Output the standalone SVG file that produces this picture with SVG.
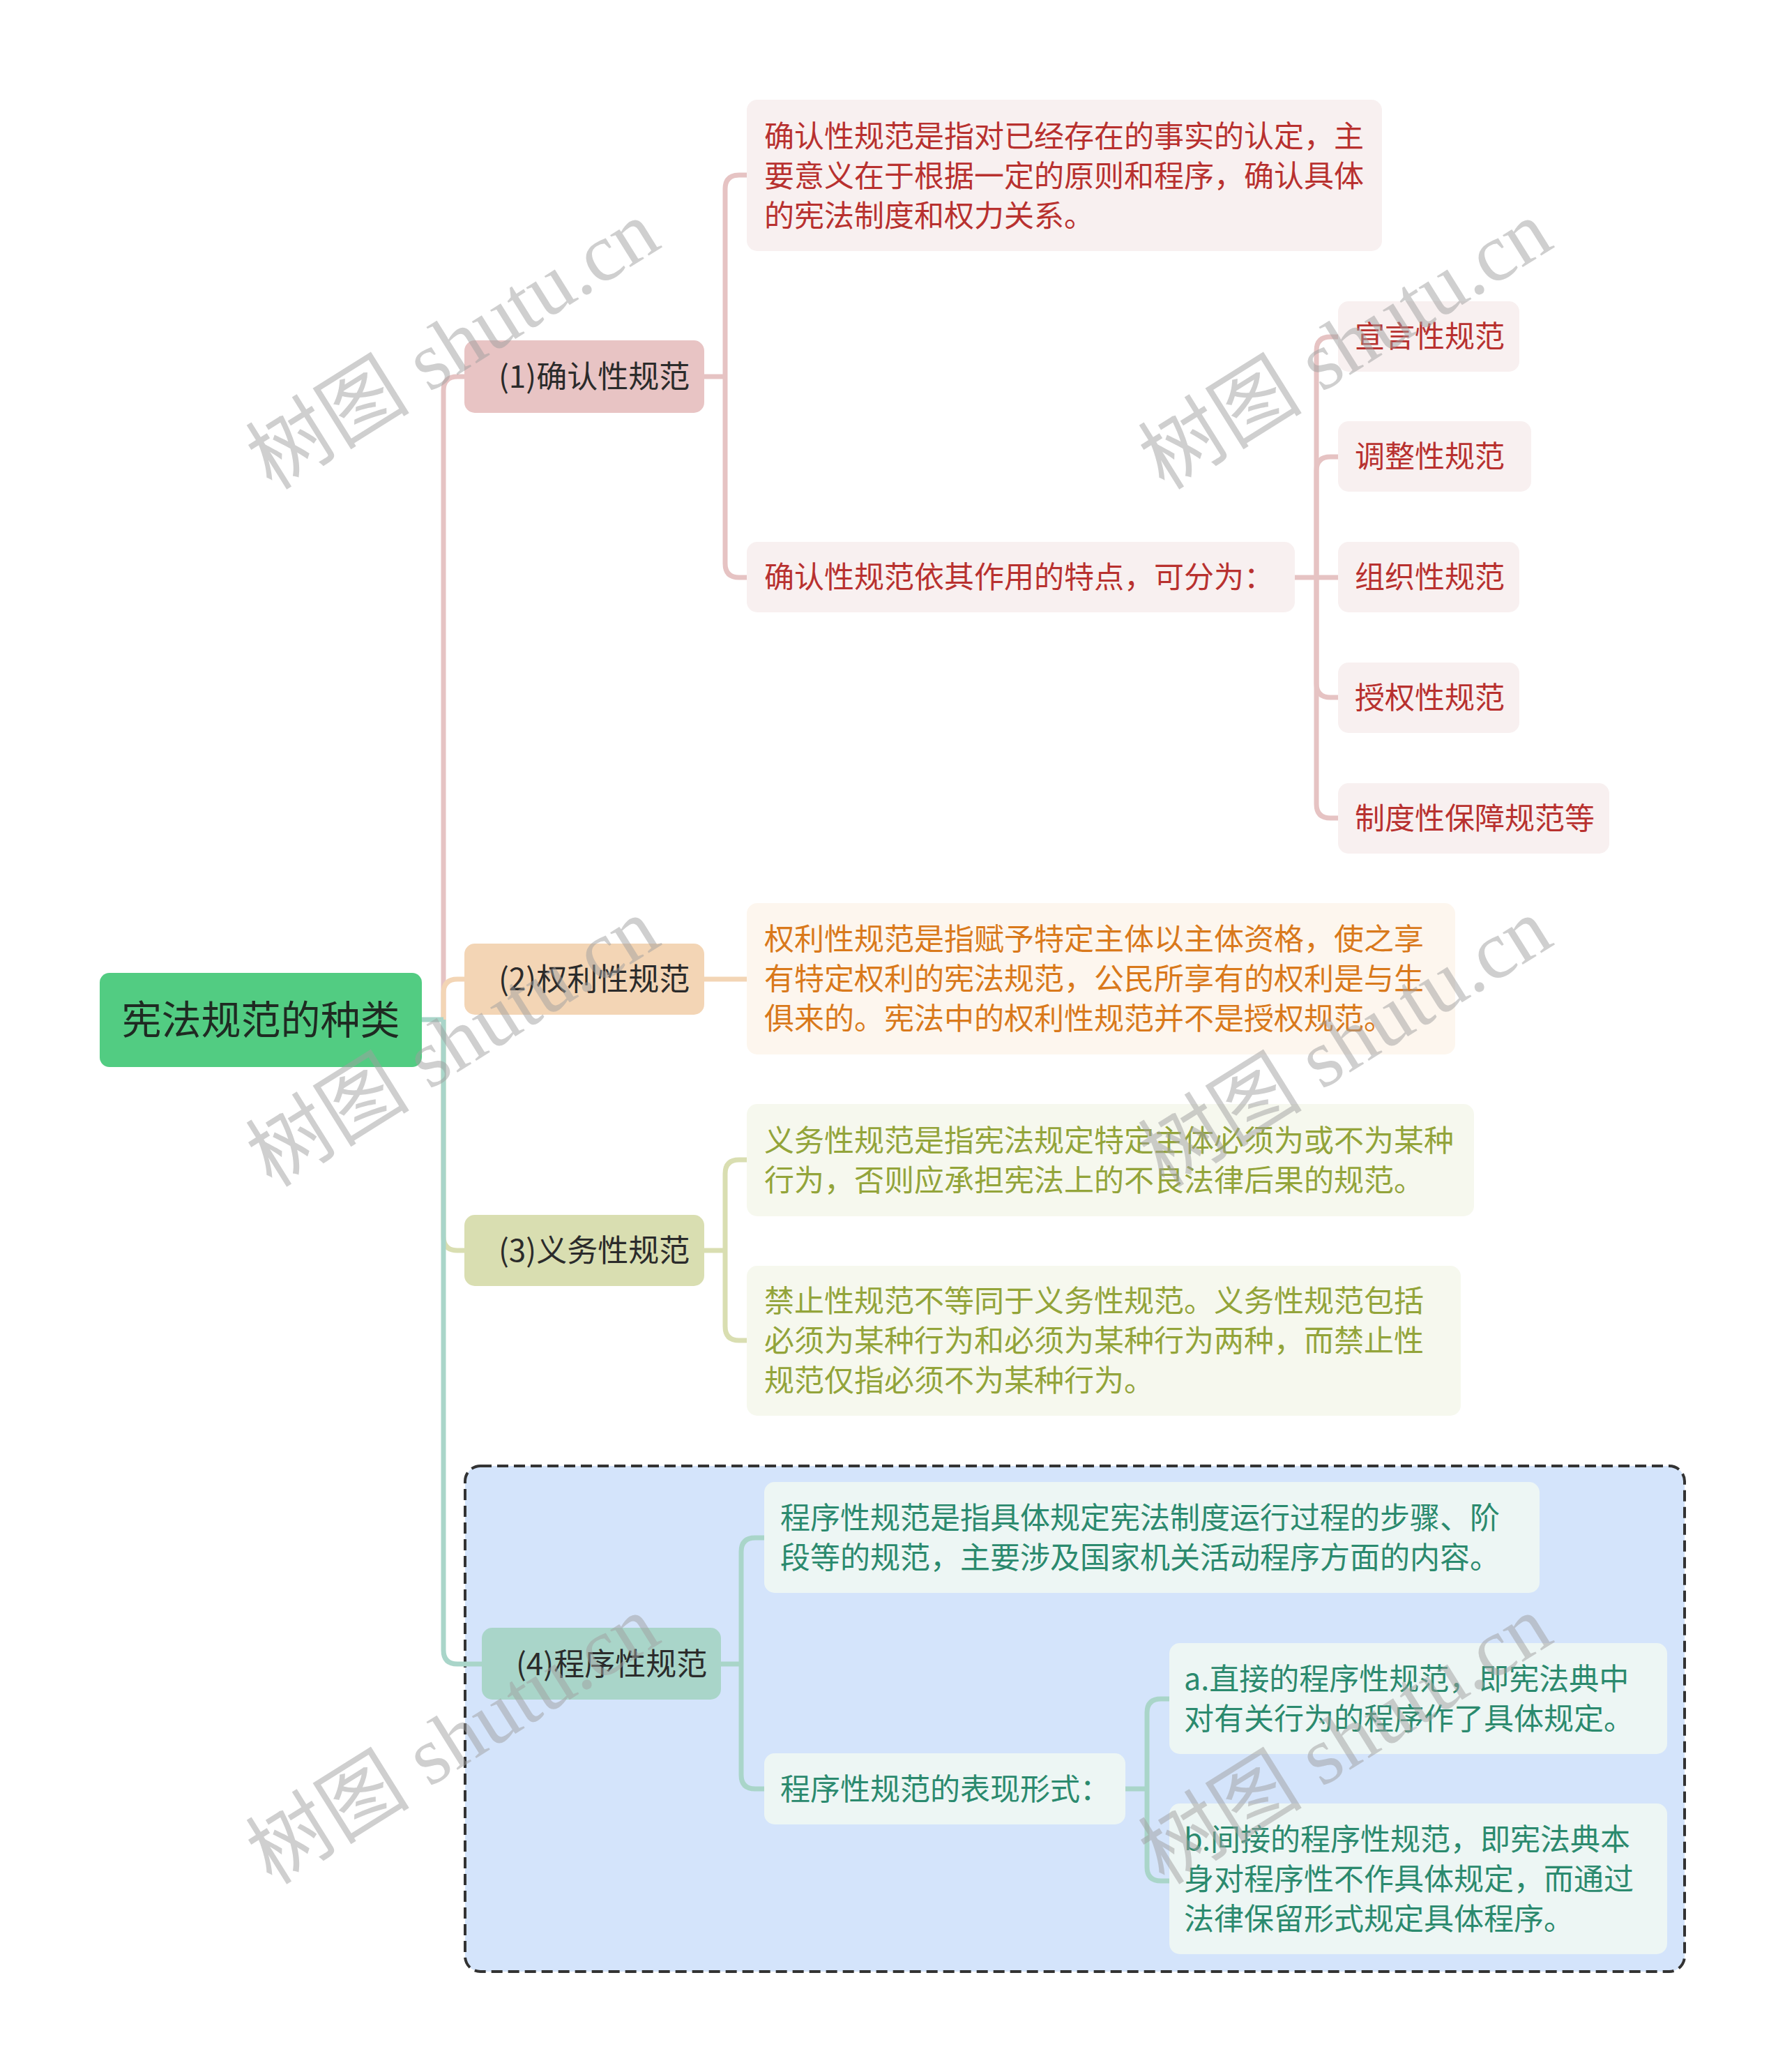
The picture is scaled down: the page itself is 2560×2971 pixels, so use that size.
<svg xmlns="http://www.w3.org/2000/svg" width="2560" height="2971" viewBox="0 0 2560 2971">
<style>
text{font-family:"Noto Sans CJK SC","Liberation Sans",sans-serif;}
.l1{font-size:44px;fill:#2b2b2b;}
.b{font-size:43px;}
.red{fill:#b8312f;}
.org{fill:#d9791b;}
.olv{fill:#93a43a;}
.tl{fill:#2b8a6e;}
.c{fill:none;stroke-width:7;stroke-linecap:butt;stroke-linejoin:round;}
.cp{stroke:#e6c3c3;}
.co{stroke:#f3d5b5;}
.cv{stroke:#d9deb1;}
.ct{stroke:#a9d5c9;}
.wm{font-family:"Liberation Serif","Noto Sans CJK SC",serif;font-size:118px;fill:#a0a0a0;opacity:0.5;}
</style>
<rect width="2560" height="2971" fill="#ffffff"/>

<g id="boundary">
<rect x="667" y="2102" width="1749" height="725" rx="22" fill="#d4e4fb" stroke="#333333" stroke-width="4" stroke-dasharray="16 8"/>
</g>

<g id="connectors">
<path class="c cp" d="M636,1462 V560 Q636,540 656,540 H666"/>
<path class="c co" d="M636,1462 V1424 Q636,1404 656,1404 H666"/>
<path class="c cv" d="M636,1462 V1773 Q636,1793 656,1793 H666"/>
<path class="c ct" d="M636,1462 V2366 Q636,2386 656,2386 H691"/>
<path class="c ct" d="M605,1462 H636"/>

<path class="c cp" d="M1010,540 H1040"/>
<path class="c cp" d="M1040,540 V271 Q1040,251 1060,251 H1071"/>
<path class="c cp" d="M1040,540 V808 Q1040,828 1060,828 H1071"/>
<path class="c cp" d="M1857,828 H1919"/>
<path class="c cp" d="M1888,828 V503 Q1888,483 1908,483 H1919"/>
<path class="c cp" d="M1888,828 V675 Q1888,655 1908,655 H1919"/>
<path class="c cp" d="M1888,828 V980 Q1888,1000 1908,1000 H1919"/>
<path class="c cp" d="M1888,828 V1153 Q1888,1173 1908,1173 H1919"/>

<path class="c co" d="M1010,1404 H1071"/>

<path class="c cv" d="M1010,1793 H1040"/>
<path class="c cv" d="M1040,1793 V1683 Q1040,1663 1060,1663 H1071"/>
<path class="c cv" d="M1040,1793 V1902 Q1040,1922 1060,1922 H1071"/>

<path class="c ct" d="M1034,2386 H1063"/>
<path class="c ct" d="M1063,2386 V2225 Q1063,2205 1083,2205 H1096"/>
<path class="c ct" d="M1063,2386 V2545 Q1063,2565 1083,2565 H1096"/>
<path class="c ct" d="M1614,2565 H1645"/>
<path class="c ct" d="M1645,2565 V2456 Q1645,2436 1665,2436 H1677"/>
<path class="c ct" d="M1645,2565 V2677 Q1645,2697 1665,2697 H1677"/>
</g>

<g id="root">
<rect x="143" y="1395" width="462" height="135" rx="14" fill="#52cc82"/>
<text x="374" y="1483" text-anchor="middle" style="font-size:57px;fill:#1f2a22;">宪法规范的种类</text>
</g>

<g id="n1">
<rect x="666" y="488" width="344" height="104" rx="15" fill="#e8c4c4"/>
<text class="l1" x="715" y="556">(1)确认性规范</text>
</g>
<g id="n1a">
<rect x="1071" y="143" width="911" height="217" rx="15" fill="#f8f0f0"/>
<text class="b red"><tspan x="1096" y="211">确认性规范是指对已经存在的事实的认定，主</tspan><tspan x="1096" y="268">要意义在于根据一定的原则和程序，确认具体</tspan><tspan x="1096" y="325">的宪法制度和权力关系。</tspan></text>
</g>
<g id="n1b">
<rect x="1071" y="777" width="786" height="101" rx="15" fill="#f8f0f0"/>
<text class="b red" x="1096" y="843">确认性规范依其作用的特点，可分为：</text>
</g>
<g id="n1b1">
<rect x="1919" y="432" width="260" height="101" rx="15" fill="#f8f0f0"/>
<text class="b red" x="1943" y="498">宣言性规范</text>
</g>
<g id="n1b2">
<rect x="1919" y="604" width="277" height="101" rx="15" fill="#f8f0f0"/>
<text class="b red" x="1943" y="670">调整性规范</text>
</g>
<g id="n1b3">
<rect x="1919" y="777" width="260" height="101" rx="15" fill="#f8f0f0"/>
<text class="b red" x="1943" y="843">组织性规范</text>
</g>
<g id="n1b4">
<rect x="1919" y="950" width="260" height="101" rx="15" fill="#f8f0f0"/>
<text class="b red" x="1943" y="1016">授权性规范</text>
</g>
<g id="n1b5">
<rect x="1919" y="1123" width="389" height="101" rx="15" fill="#f8f0f0"/>
<text class="b red" x="1943" y="1189">制度性保障规范等</text>
</g>

<g id="n2">
<rect x="666" y="1353" width="344" height="102" rx="15" fill="#f3d5b5"/>
<text class="l1" x="715" y="1420">(2)权利性规范</text>
</g>
<g id="n2a">
<rect x="1071" y="1295" width="1016" height="217" rx="15" fill="#fdf6ee"/>
<text class="b org"><tspan x="1096" y="1362">权利性规范是指赋予特定主体以主体资格，使之享</tspan><tspan x="1096" y="1419">有特定权利的宪法规范，公民所享有的权利是与生</tspan><tspan x="1096" y="1476">俱来的。宪法中的权利性规范并不是授权规范。</tspan></text>
</g>

<g id="n3">
<rect x="666" y="1742" width="344" height="102" rx="15" fill="#d9deb1"/>
<text class="l1" x="715" y="1809">(3)义务性规范</text>
</g>
<g id="n3a">
<rect x="1071" y="1583" width="1043" height="161" rx="15" fill="#f6f8ee"/>
<text class="b olv"><tspan x="1096" y="1651">义务性规范是指宪法规定特定主体必须为或不为某种</tspan><tspan x="1096" y="1708">行为，否则应承担宪法上的不良法律后果的规范。</tspan></text>
</g>
<g id="n3b">
<rect x="1071" y="1815" width="1024" height="215" rx="15" fill="#f6f8ee"/>
<text class="b olv"><tspan x="1096" y="1881">禁止性规范不等同于义务性规范。义务性规范包括</tspan><tspan x="1096" y="1938">必须为某种行为和必须为某种行为两种，而禁止性</tspan><tspan x="1096" y="1995">规范仅指必须不为某种行为。</tspan></text>
</g>

<g id="n4">
<rect x="691" y="2334" width="343" height="103" rx="15" fill="#a9d5c9"/>
<text class="l1" x="740" y="2402">(4)程序性规范</text>
</g>
<g id="n4a">
<rect x="1096" y="2125" width="1112" height="159" rx="15" fill="#edf6f4"/>
<text class="b tl"><tspan x="1119" y="2192">程序性规范是指具体规定宪法制度运行过程的步骤、阶</tspan><tspan x="1119" y="2249">段等的规范，主要涉及国家机关活动程序方面的内容。</tspan></text>
</g>
<g id="n4b">
<rect x="1096" y="2514" width="518" height="102" rx="15" fill="#edf6f4"/>
<text class="b tl" x="1119" y="2581">程序性规范的表现形式：</text>
</g>
<g id="n4b1">
<rect x="1677" y="2356" width="714" height="159" rx="15" fill="#edf6f4"/>
<text class="b tl"><tspan x="1698" y="2423">a.直接的程序性规范，即宪法典中</tspan><tspan x="1698" y="2480">对有关行为的程序作了具体规定。</tspan></text>
</g>
<g id="n4b2">
<rect x="1677" y="2586" width="714" height="216" rx="15" fill="#edf6f4"/>
<text class="b tl"><tspan x="1698" y="2653">b.间接的程序性规范，即宪法典本</tspan><tspan x="1698" y="2710">身对程序性不作具体规定，而通过</tspan><tspan x="1698" y="2767">法律保留形式规定具体程序。</tspan></text>
</g>

<g id="watermarks">
<text class="wm" transform="translate(390,704) rotate(-32)">树图 shutu.cn</text>
<text class="wm" transform="translate(1670,704) rotate(-32)">树图 shutu.cn</text>
<text class="wm" transform="translate(390,1704) rotate(-32)">树图 shutu.cn</text>
<text class="wm" transform="translate(1670,1704) rotate(-32)">树图 shutu.cn</text>
<text class="wm" transform="translate(390,2704) rotate(-32)">树图 shutu.cn</text>
<text class="wm" transform="translate(1670,2704) rotate(-32)">树图 shutu.cn</text>
</g>
</svg>
